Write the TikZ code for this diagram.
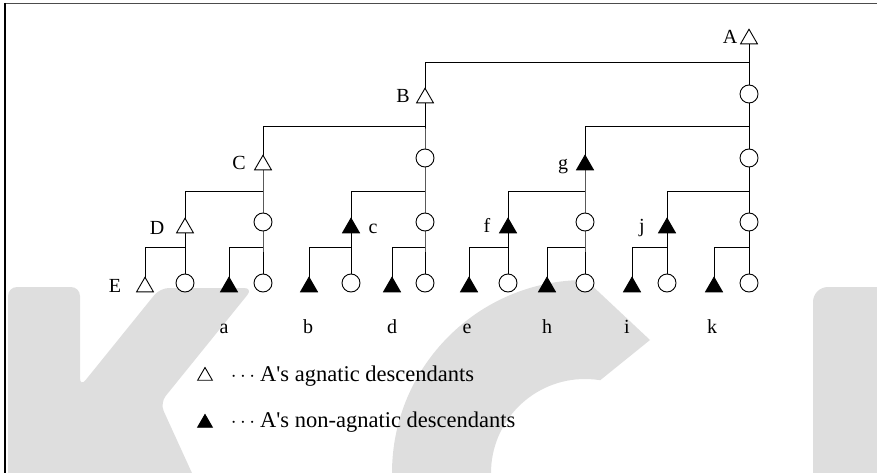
\documentclass[tikz,border=0pt]{standalone}
\usepackage{fontspec}
\setmainfont{Liberation Serif}
\usetikzlibrary{shapes.geometric}
\pgfdeclarelayer{wmlayer}
\pgfdeclarelayer{linelayer}
\pgfsetlayers{wmlayer,linelayer,main}
\begin{document}
\begin{tikzpicture}[x=1pt,y=-1pt,
  wmfill/.style={fill=black!13},
  edge/.style={line width=0.9pt},
  circ/.style={circle,draw,fill=white,line width=0.9pt,minimum size=18pt,inner sep=0pt},
  otri/.style={regular polygon,regular polygon sides=3,draw,fill=white,line width=0.9pt,minimum size=19.5pt,inner sep=0pt},
  ftri/.style={otri,fill=black},
  lbl/.style={font=\fontsize{20}{24}\selectfont,inner sep=0pt,anchor=base},
  legtext/.style={font=\fontsize{22.5}{27}\selectfont,inner sep=0pt,anchor=base west}]
\useasboundingbox (0,0) rectangle (877,473);

% watermark
\begin{pgfonlayer}{wmlayer}
\begin{scope}
\clip (0,0) rectangle (877,473);
\fill[wmfill,rounded corners=9pt] (8,495) -- (8,287) -- (80,287) -- (80,387) -- (160,288) -- (253,288) -- (160,403) -- (202,495) -- cycle;
\begin{scope}
\clip (0,250) -- (554,250) -- (650,340) -- (598,382) -- (598,480) -- (0,480) -- cycle;
\fill[wmfill,even odd rule] (585,473) circle (193pt) (585,473) circle (94pt);
\end{scope}
\fill[wmfill,rounded corners=15pt] (813,495) -- (813,287) -- (900,287) -- (900,495) -- cycle;
\end{scope}
\end{pgfonlayer}

% frame
\draw[line width=1.3pt,black!70] (5,3.5) -- (877,3.5);
\draw[line width=1.3pt] (5,3) -- (5,473);

% nodes
\node[otri] (A) at (749,39) {};
\node[circ] (A1) at (749,94) {};
\node[circ] (A2) at (749,158) {};
\node[circ] (A3) at (749,222) {};
\node[circ] (A4) at (749,283) {};
\node[otri] (B) at (425,98) {};
\node[circ] (B1) at (425,158) {};
\node[circ] (B2) at (425,222) {};
\node[circ] (B3) at (425,283) {};
\node[otri] (C) at (263,165) {};
\node[circ] (C1) at (263,222) {};
\node[circ] (C2) at (263,283) {};
\node[otri] (D) at (185,228) {};
\node[circ] (D1) at (185,283) {};
\node[otri] (E) at (145,287) {};
\node[ftri] (a) at (229,287) {};
\node[ftri] (c) at (351,228) {};
\node[circ] (c1) at (351,283) {};
\node[ftri] (b) at (309,287) {};
\node[ftri] (d) at (392,287) {};
\node[ftri] (g) at (585,165) {};
\node[circ] (g1) at (585,222) {};
\node[circ] (g2) at (585,283) {};
\node[ftri] (f) at (508,228) {};
\node[circ] (f1) at (508,283) {};
\node[ftri] (e) at (469,287) {};
\node[ftri] (h) at (547,287) {};
\node[ftri] (j) at (667,228) {};
\node[circ] (j1) at (667,283) {};
\node[ftri] (i) at (632,287) {};
\node[ftri] (k) at (714,287) {};

% junctions
\coordinate (jA1) at (749,62);
\coordinate (jA2) at (749,126);
\coordinate (jA3) at (749,191);
\coordinate (jA4) at (749,247);
\coordinate (jB1) at (425,126);
\coordinate (jB2) at (425,191);
\coordinate (jB3) at (425,247);
\coordinate (jC1) at (263,191);
\coordinate (jC2) at (263,247);
\coordinate (jD) at (185,247);
\coordinate (jc) at (351,247);
\coordinate (jg1) at (585,191);
\coordinate (jg2) at (585,247);
\coordinate (jf) at (508,247);
\coordinate (jj) at (667,247);

\begin{pgfonlayer}{linelayer}
\draw[edge] (A.center) -- (A1.center) -- (A2.center) -- (A3.center) -- (A4.center);
\draw[edge] (B.center) -- (B1.center) -- (B2.center) -- (B3.center);
\draw[edge] (C.center) -- (C1.center) -- (C2.center);
\draw[edge] (D.center) -- (D1.center);
\draw[edge] (c.center) -- (c1.center);
\draw[edge] (g.center) -- (g1.center) -- (g2.center);
\draw[edge] (f.center) -- (f1.center);
\draw[edge] (j.center) -- (j1.center);
\draw[edge] (B.center) |- (jA1);
\draw[edge] (C.center) |- (jB1);
\draw[edge] (g.center) |- (jA2);
\draw[edge] (D.center) |- (jC1);
\draw[edge] (c.center) |- (jB2);
\draw[edge] (f.center) |- (jg1);
\draw[edge] (j.center) |- (jA3);
\draw[edge] (E.center) |- (jD);
\draw[edge] (a.center) |- (jC2);
\draw[edge] (b.center) |- (jc);
\draw[edge] (d.center) |- (jB3);
\draw[edge] (e.center) |- (jf);
\draw[edge] (h.center) |- (jg2);
\draw[edge] (i.center) |- (jj);
\draw[edge] (k.center) |- (jA4);
\end{pgfonlayer}

% labels
\node[lbl] (lA) at (730,44) {A};
\node[lbl] (lB) at (403,103) {B};
\node[lbl] (lC) at (239,170) {C};
\node[lbl] (lD) at (157,234) {D};
\node[lbl] (lE) at (115,292) {E};
\node[lbl] (lc) at (373,233) {c};
\node[lbl] (lf) at (487,232) {f};
\node[lbl] (lg) at (563,169) {g};
\node[lbl] (lj) at (642,232) {j};
\node[lbl] (la) at (224,333) {a};
\node[lbl] (lb) at (308,333) {b};
\node[lbl] (ld) at (392,333) {d};
\node[lbl] (le) at (467,333) {e};
\node[lbl] (lh) at (547,333) {h};
\node[lbl] (li) at (627,333) {i};
\node[lbl] (lk) at (712,333) {k};

% legend
\node[otri,minimum size=17pt] (L1) at (205,376) {};
\node[ftri,minimum size=17pt] (L2) at (205,423) {};
\node[lbl,font=\fontsize{22.5}{27}\selectfont] (L1dots) at (243,381) {$\cdots$};
\node[lbl,font=\fontsize{22.5}{27}\selectfont] (L2dots) at (243,427) {$\cdots$};
\node[legtext] (L1text) at (260,381) {A\textquotesingle s agnatic descendants};
\node[legtext] (L2text) at (260,427) {A\textquotesingle s non-agnatic descendants};
\end{tikzpicture}
\end{document}
